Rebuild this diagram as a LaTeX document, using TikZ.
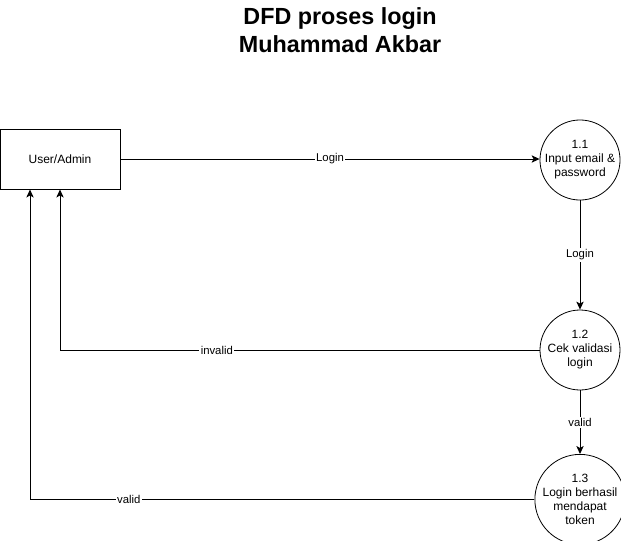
\documentclass[tikz,border=0pt]{standalone}
\usepackage{fontspec}
\setmainfont{Liberation Sans}
\usetikzlibrary{positioning,arrows.meta}
\tikzset{>={Stealth[length=6pt,width=5.5pt,inset=1.5pt]}}

\begin{document}
\begin{tikzpicture}[x=0.75pt,y=-0.75pt,
	entity/.style = {% external entity
		draw, line width=0.75pt, minimum width=90pt, minimum height=45pt, inner sep=0pt, font=\fontsize{9}{10.5}\selectfont,},
	proc/.style = {% process circle
		draw, line width=0.6pt, circle, minimum size=60pt, inner sep=0pt, align=center, font=\fontsize{9}{10.5}\selectfont,},
	fl/.style = {% flow labels
		fill=white, inner sep=1pt, font=\fontsize{8.5}{9}\selectfont,},
	flow/.style = {% data flows
		->, line width=0.75pt,},
	]
	\useasboundingbox (0,0) rectangle (621,540);
	
	% title
	\node[font=\bfseries\fontsize{17.5}{20.5}\selectfont, align=center] (title) at (340,30) {DFD proses login\\Muhammad Akbar};
	
	% entity and processes
	\node[entity] (user) at (60,159) {User/Admin};
	\node[proc] (p1) at (580,160) {1.1\\Input email \&\\password};
	\node[proc] (p2) at (580,350) {1.2\\Cek validasi\\login};
	\node[proc] (p3) at (580,499.5) {1.3\\Login berhasil\\mendapat\\token};
	
	% flows
	\draw[flow] (user.east |- 0,159) -- node[fl] {Login} (p1.west |- 0,159);
	\draw[flow] (p1) -- node[fl] {Login} (p2);
	\draw[flow] (p2) -- node[fl] {valid} (p3);
	\draw[flow] (p2.west) -- node[fl, pos=0.673] {invalid} (60,350) -- (user.south -| 60,0);
	\draw[flow] (p3.west |- 0,499) -- node[fl, pos=0.804] {valid} (30,499) -- (user.south -| 30,0);

\end{tikzpicture}
\end{document}
